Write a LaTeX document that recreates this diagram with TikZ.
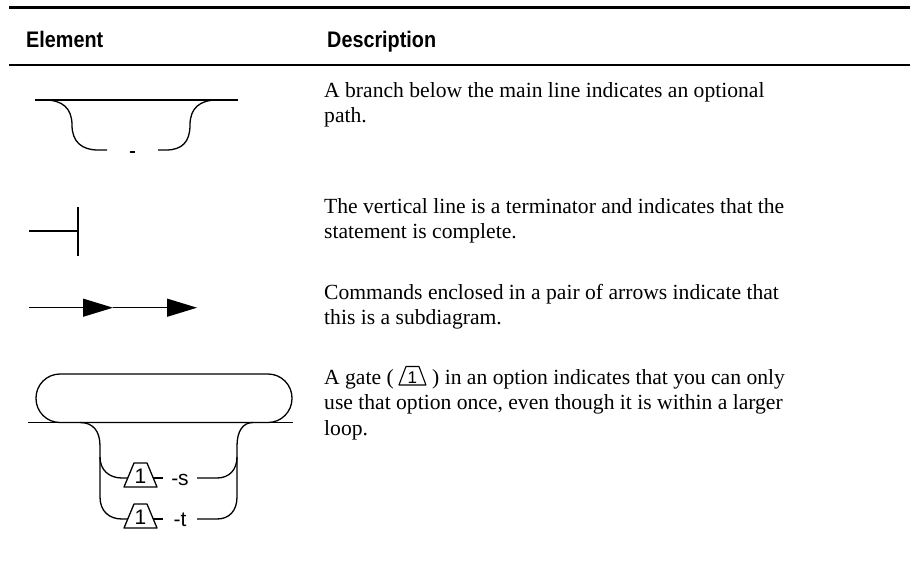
\documentclass[tikz,border=0pt]{standalone}
\usepackage{fontspec}
\setmainfont{Liberation Serif}
\newfontfamily\diagfont{Liberation Sans}
\newfontfamily\headfont[FakeStretch=0.88]{Liberation Sans}
\usetikzlibrary{arrows.meta,calc}

\begin{document}
\begin{tikzpicture}[x=1pt,y=-1pt,
  diag/.style={line width=1.3pt, line join=round},
  body/.style={inner sep=0pt, anchor=base west, font=\fontsize{21.6}{25.5}\selectfont},
  head/.style={inner sep=0pt, anchor=base west, font=\headfont\bfseries\fontsize{22.5}{26}\selectfont},
  lbl/.style={inner sep=0pt, anchor=base, font=\diagfont\fontsize{21}{24}\selectfont},
  smalllbl/.style={inner sep=0pt, anchor=base, font=\diagfont\fontsize{17}{20}\selectfont},
  fat/.style={-{Triangle[length=30pt,width=18pt]}},
  gatepic/.pic={
    \draw[diag] (-16.5,9) -- (-6.5,-15) -- (6.5,-15) -- (16.5,9) -- cycle;
    \node[lbl] (-digit) at (0,5) {1};
  },
]
\useasboundingbox (0,0) rectangle (910,562);

% table rules and column heads
\draw[line width=2.5pt] (9,7.5) -- (910,7.5);
\node[head] (hElem) at (26,47) {Element};
\node[head] (hDesc) at (327,47) {Description};
\draw[line width=1.5pt] (9,65) -- (910,65);

% --- optional branch below the main line
\coordinate (m1a) at (35,100);
\coordinate (m1b) at (238,100);
\draw[diag] (m1a) -- (m1b);
\draw[diag] (45,100) .. controls (62,100) and (72,108) .. (72,125)
  .. controls (72,142) and (82,150) .. (98,150) -- (107,150);
\draw[diag] (158,150) -- (166,150) .. controls (182,150) and (190,142) .. (190,125)
  .. controls (190,108) and (200,100) .. (217,100);
\draw[line width=2.5pt] (130,152) -- (135,152);

% --- terminator
\coordinate (tm0) at (29,231);
\coordinate (tm1) at (78,231);
\draw[diag] (tm0) -- (tm1);
\draw[diag] (78,207) -- (78,256);

% --- subdiagram arrows
\coordinate (a0) at (29,307.7);
\coordinate (a1) at (113,307.7);
\coordinate (a2) at (197,307.7);
\draw[diag, fat] (a0) -- (a1);
\draw[diag, fat] (a1) -- (a2);

% --- loop with gated options
\draw[diag] (28,422.5) -- (293,422.5);
\draw[diag, rounded corners=24pt] (36,374) rectangle (292,422.5);
\draw[diag] (80,422.5) .. controls (93,422.5) and (100,431) .. (100,446) -- (100,497)
  .. controls (100,511) and (109,519) .. (122,519) -- (127.75,519);
\draw[diag] (253,422.5) .. controls (243,422.5) and (237,431) .. (237,446) -- (237,497)
  .. controls (237,511) and (229,519) .. (217,519) -- (197,519);
\draw[diag] (100,457) .. controls (100,470) and (109,478) .. (122,478) -- (127.75,478);
\draw[diag] (237,457) .. controls (237,470) and (229,478) .. (217,478) -- (197,478);
\pic (gs) at (140.5,478) {gatepic};
\pic (gt) at (140.5,519) {gatepic};
\draw[diag] (153.25,478) -- (163,478);
\draw[diag] (153.25,519) -- (163,519);
\node[lbl] (optS) at (180,485) {-s};
\node[lbl] (optT) at (180,526) {-t};

% descriptions
\node[body] (d1a) at (324,97) {A branch below the main line indicates an optional};
\node[body] (d1b) at (324,122.5) {path.};
\node[body] (d2a) at (324,213) {The vertical line is a terminator and indicates that the};
\node[body] (d2b) at (324,238.5) {statement is complete.};
\node[body] (d3a) at (324,299) {Commands enclosed in a pair of arrows indicate that};
\node[body] (d3b) at (324,324.5) {this is a subdiagram.};
\node[body] (d4a) at (324,384) {A gate (};
\draw[line width=1.1pt, line join=round] ($(d4a.base east)+(5,1)$) -- ++(7,-18.5) -- ++(13,0) -- ++(7,18.5) -- cycle;
\node[smalllbl] (d4g) at ($(d4a.base east)+(18.5,-1)$) {1};
\node[body] (d4b) at ($(d4a.base east)+(38,0)$) {) in an option indicates that you can only};
\node[body] (d4c) at (324,409.5) {use that option once, even though it is within a larger};
\node[body] (d4d) at (324,435) {loop.};
\end{tikzpicture}
\end{document}
